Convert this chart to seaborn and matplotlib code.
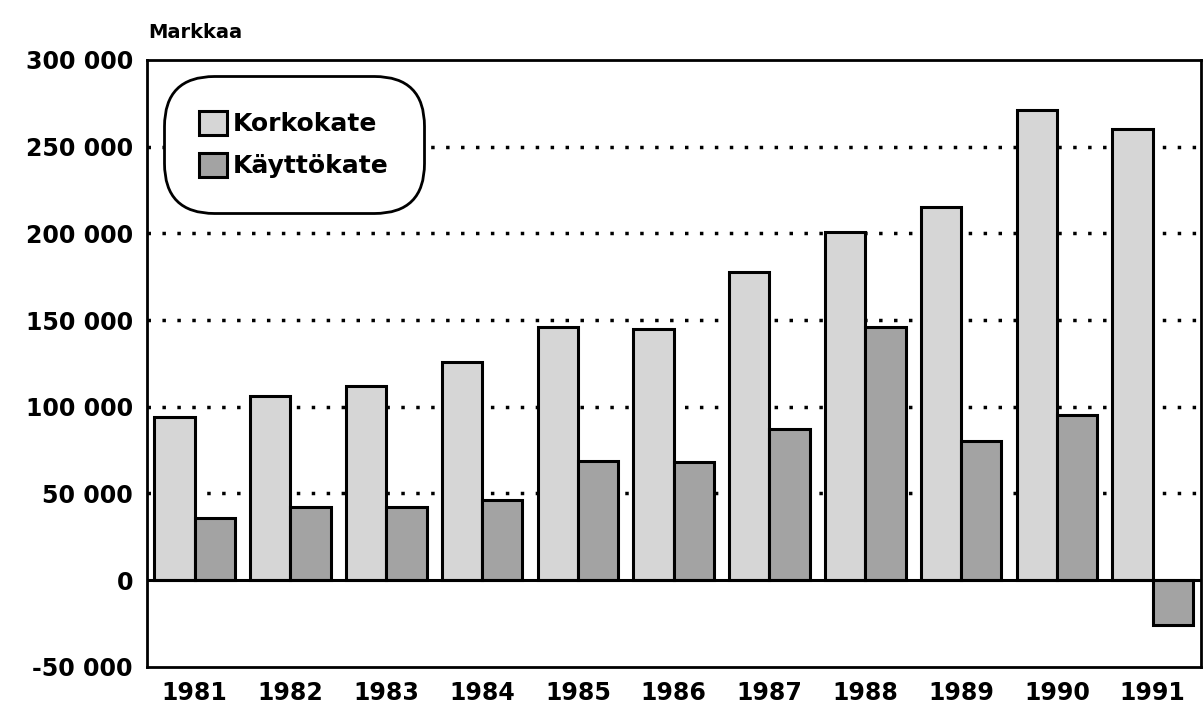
import matplotlib
matplotlib.use("Agg")
import matplotlib.pyplot as plt
import numpy as np
import pandas as pd
import seaborn as sns

years = ["1981", "1982", "1983", "1984", "1985", "1986", "1987", "1988", "1989", "1990", "1991"]
korkokate = [94000, 106000, 112000, 126000, 146000, 145000, 178000, 201000, 215000, 271000, 260000]
kayttokate = [36000, 42000, 42000, 46000, 69000, 68000, 87000, 146000, 80000, 95000, -26000]
series_names = ["Korkokate", "Käyttökate"]
y_ticks = [-50000, 0, 50000, 100000, 150000, 200000, 250000, 300000]
y_tick_labels = ["-50 000", "0", "50 000", "100 000", "150 000", "200 000", "250 000", "300 000"]

df = pd.DataFrame({
    "vuosi": years * 2,
    "sarja": [series_names[0]] * len(years) + [series_names[1]] * len(years),
    "markkaa": korkokate + kayttokate,
})

sns.set_theme(style="white")
plt.rcParams["font.family"] = ["DejaVu Sans"]
plt.rcParams["font.weight"] = "bold"
plt.rcParams["text.color"] = "black"
plt.rcParams["xtick.color"] = "black"
plt.rcParams["ytick.color"] = "black"

fig = plt.figure(figsize=(12.03, 7.14), dpi=100)
ax = fig.add_axes([0.122, 0.066, 0.876, 0.85])

# dotted grid lines (not at 0 and 300 000)
for v in y_ticks[2:-1]:
    ax.axhline(v, color="black", linestyle=(0, (1, 3.3)), linewidth=2.5, zorder=0)

sns.barplot(data=df, x="vuosi", y="markkaa", hue="sarja", order=years,
            hue_order=series_names, palette=["#d6d6d6", "#a3a3a3"],
            width=0.84, edgecolor="black", linewidth=2.2, saturation=1,
            errorbar=None, ax=ax, zorder=2)

ax.axhline(0, color="black", linewidth=2.2, zorder=3)

ax.set_xlim(-0.5, 10.5)
ax.set_ylim(-50000, 300000)
ax.set_yticks(y_ticks)
ax.set_yticklabels(y_tick_labels)
ax.set_xlabel("")
ax.set_ylabel("")
ax.tick_params(axis="y", length=0, labelsize=17, pad=10)
ax.tick_params(axis="x", length=0, labelsize=17, pad=10)
for lab in ax.get_xticklabels() + ax.get_yticklabels():
    lab.set_fontweight("bold")

for side in ["left", "bottom", "top", "right"]:
    ax.spines[side].set_visible(True)
    ax.spines[side].set_color("black")
    ax.spines[side].set_linewidth(2)

fig.text(0.123, 0.955, "Markkaa", fontsize=14, fontweight="bold", ha="left", va="center")

leg = ax.legend(loc="upper left", bbox_to_anchor=(0.012, 0.982), fontsize=18,
                frameon=True, fancybox=True, edgecolor="black", framealpha=1,
                handlelength=1.1, handleheight=1.1, handletextpad=0.25,
                borderpad=1.1, labelspacing=0.65, title=None)
leg.get_frame().set_linewidth(2)
leg.get_frame().set_boxstyle("round", pad=0.3, rounding_size=2.0)
for t in leg.get_texts():
    t.set_fontweight("bold")

fig.savefig("out.png", dpi=100)
